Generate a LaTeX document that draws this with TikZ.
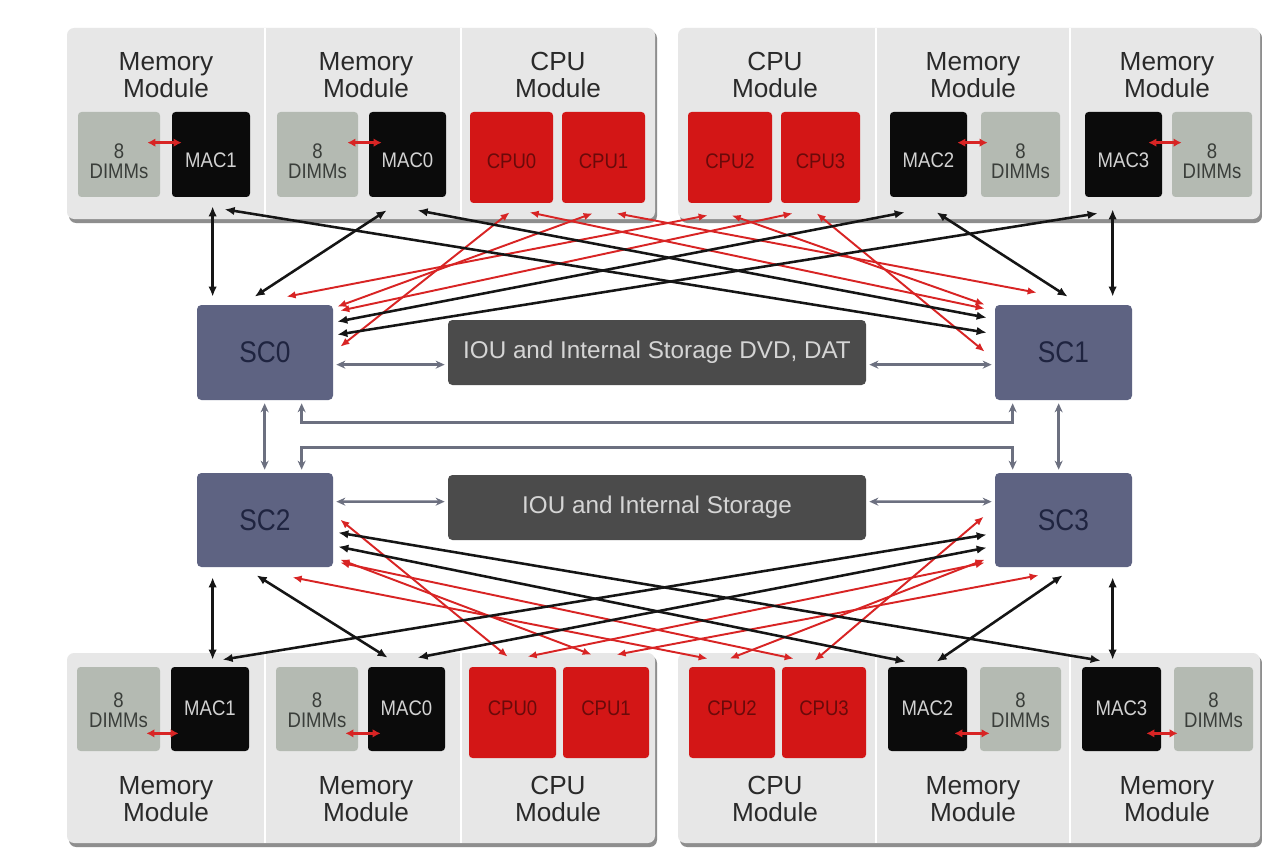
\documentclass[tikz,border=0pt]{standalone}
\usepackage{fontspec}
\setmainfont{Liberation Sans}
\newfontfamily\dgNarrow[FakeStretch=0.88]{Liberation Sans}
\usetikzlibrary{arrows.meta,calc,fit}
\definecolor{panelgray}{HTML}{E7E7E7}
\definecolor{panelshadow}{HTML}{8E8E8E}
\definecolor{dimmgray}{HTML}{B4BAB2}
\definecolor{dimmtext}{HTML}{3A3E3A}
\definecolor{macblack}{HTML}{0B0B0B}
\definecolor{mactext}{HTML}{D2D2D2}
\definecolor{cpured}{HTML}{D31616}
\definecolor{cputext}{HTML}{6A0A0A}
\definecolor{scblue}{HTML}{5E6382}
\definecolor{sctext}{HTML}{1F2440}
\definecolor{ioubox}{HTML}{4B4B4B}
\definecolor{ioutext}{HTML}{D5D5D5}
\definecolor{kblack}{HTML}{151515}
\definecolor{lred}{HTML}{D82424}
\definecolor{lgrey}{HTML}{6C7080}
\definecolor{titletext}{HTML}{2A2A2A}
\newcommand\dgTitleFont{\fontsize{14.9pt}{15.5pt}\selectfont}
\newcommand\dgBoxFont{\dgNarrow\fontsize{12pt}{11.5pt}\selectfont}
\newcommand\dgScFont{\dgNarrow\fontsize{17pt}{17pt}\selectfont}
\newcommand\dgIouFont{\fontsize{13.8pt}{14pt}\selectfont}
\tikzset{
  panelbox/.style={fill=panelgray, rounded corners=4pt, inner sep=0pt},
  panelshade/.style={fill=panelshadow, rounded corners=4pt, inner sep=0pt},
  divider/.style={draw=white, line width=1.6pt},
  dimmbox/.style={fill=dimmgray, rounded corners=2pt, inner sep=0pt},
  macbox/.style={fill=macblack, rounded corners=2pt, inner sep=0pt},
  cpubox/.style={fill=cpured, rounded corners=2pt, inner sep=0pt},
  scbox/.style={fill=scblue, rounded corners=2.5pt, inner sep=0pt},
  ioubx/.style={fill=ioubox, rounded corners=2.5pt, inner sep=0pt},
  ttl/.style={font=\dgTitleFont, text=titletext, align=center, inner sep=0pt},
  dimmlbl/.style={font=\dgBoxFont, text=dimmtext, align=center, inner sep=0pt},
  maclbl/.style={font=\dgBoxFont, text=mactext, inner sep=0pt},
  cpulbl/.style={font=\dgBoxFont, text=cputext, inner sep=0pt},
  sclbl/.style={font=\dgScFont, text=sctext, inner sep=0pt},
  ioulbl/.style={font=\dgIouFont, text=ioutext, inner sep=0pt},
  bk/.style={draw=kblack, line width=1.45pt, arrows={Latex[length=2mm,width=1.7mm]-Latex[length=2mm,width=1.7mm]}},
  rd/.style={draw=lred, line width=1.1pt, arrows={Latex[length=1.8mm,width=1.5mm]-Latex[length=1.8mm,width=1.5mm]}},
  rdm/.style={draw=lred, line width=1.6pt, arrows={Latex[length=1.6mm,width=1.7mm]-Latex[length=1.6mm,width=1.7mm]}},
  gy/.style={draw=lgrey, line width=1.5pt, arrows={Stealth[length=1.8mm,width=1.6mm]-Stealth[length=1.8mm,width=1.6mm]}},
}
\begin{document}
\begin{tikzpicture}[x=0.02cm,y=-0.02cm]
\useasboundingbox[fill=white] (0,0) rectangle (1262,855);

% ---------- panels ----------
\node[panelshade, fit={(69,31)(657,223)}] (tlsh) {};
\node[panelbox, fit={(67,28)(655,219)}] (tl) {};
\node[panelshade, fit={(680,31)(1262,223)}] (trsh) {};
\node[panelbox, fit={(678,28)(1260,219)}] (tr) {};
\node[panelshade, fit={(69,656)(657,847)}] (blsh) {};
\node[panelbox, fit={(67,653)(655,843)}] (bl) {};
\node[panelshade, fit={(680,656)(1262,847)}] (brsh) {};
\node[panelbox, fit={(678,653)(1260,843)}] (br) {};

\draw[divider] (265,28) -- (265,219);
\draw[divider] (461,28) -- (461,219);
\draw[divider] (876,28) -- (876,219);
\draw[divider] (1070,28) -- (1070,219);
\draw[divider] (265,653) -- (265,843);
\draw[divider] (461,653) -- (461,843);
\draw[divider] (876,653) -- (876,843);
\draw[divider] (1070,653) -- (1070,843);

% ---------- titles ----------
\node[ttl] (tt1) at (166,75) {Memory\\Module};
\node[ttl] (tt2) at (366,75) {Memory\\Module};
\node[ttl] (tt3) at (558,75) {CPU\\Module};
\node[ttl] (tt4) at (775,75) {CPU\\Module};
\node[ttl] (tt5) at (973,75) {Memory\\Module};
\node[ttl] (tt6) at (1167,75) {Memory\\Module};
\node[ttl] (bt1) at (166,799) {Memory\\Module};
\node[ttl] (bt2) at (366,799) {Memory\\Module};
\node[ttl] (bt3) at (558,799) {CPU\\Module};
\node[ttl] (bt4) at (775,799) {CPU\\Module};
\node[ttl] (bt5) at (973,799) {Memory\\Module};
\node[ttl] (bt6) at (1167,799) {Memory\\Module};

% ---------- top modules ----------
\node[dimmbox, fit={(78,112)(160,197)}] (tdimm1) {};
\node[macbox, fit={(172,112)(250,197)}] (tmac1) {};
\node[dimmbox, fit={(277,112)(358,197)}] (tdimm0) {};
\node[macbox, fit={(369,112)(446,197)}] (tmac0) {};
\node[cpubox, fit={(470,112)(553,203)}] (tcpu0) {};
\node[cpubox, fit={(562,112)(645,203)}] (tcpu1) {};
\node[cpubox, fit={(688,112)(772,203)}] (tcpu2) {};
\node[cpubox, fit={(781,112)(860,203)}] (tcpu3) {};
\node[macbox, fit={(890,112)(967,197)}] (tmac2) {};
\node[dimmbox, fit={(981,112)(1060,197)}] (tdimm2) {};
\node[macbox, fit={(1085,112)(1162,197)}] (tmac3) {};
\node[dimmbox, fit={(1172,112)(1252,197)}] (tdimm3) {};

\node[dimmlbl] (ltd1) at ($(tdimm1.center)+(0,7)$) {8\\DIMMs};
\node[maclbl] (ltm1) at ($(tmac1.center)+(0,6)$) {MAC1};
\node[dimmlbl] (ltd0) at ($(tdimm0.center)+(0,7)$) {8\\DIMMs};
\node[maclbl] (ltm0) at ($(tmac0.center)+(0,6)$) {MAC0};
\node[cpulbl] (ltc0) at ($(tcpu0.center)+(0,4)$) {CPU0};
\node[cpulbl] (ltc1) at ($(tcpu1.center)+(0,4)$) {CPU1};
\node[cpulbl] (ltc2) at ($(tcpu2.center)+(0,4)$) {CPU2};
\node[cpulbl] (ltc3) at ($(tcpu3.center)+(0,4)$) {CPU3};
\node[maclbl] (ltm2) at ($(tmac2.center)+(0,6)$) {MAC2};
\node[dimmlbl] (ltd2) at ($(tdimm2.center)+(0,7)$) {8\\DIMMs};
\node[maclbl] (ltm3) at ($(tmac3.center)+(0,6)$) {MAC3};
\node[dimmlbl] (ltd3) at ($(tdimm3.center)+(0,7)$) {8\\DIMMs};

% ---------- bottom modules ----------
\node[dimmbox, fit={(77,667)(160,751)}] (bdimm1) {};
\node[macbox, fit={(171,667)(249,751)}] (bmac1) {};
\node[dimmbox, fit={(276,667)(358,751)}] (bdimm0) {};
\node[macbox, fit={(368,667)(445,751)}] (bmac0) {};
\node[cpubox, fit={(469,667)(556,758)}] (bcpu0) {};
\node[cpubox, fit={(563,667)(649,758)}] (bcpu1) {};
\node[cpubox, fit={(689,667)(775,758)}] (bcpu2) {};
\node[cpubox, fit={(782,667)(866,758)}] (bcpu3) {};
\node[macbox, fit={(888,667)(967,751)}] (bmac2) {};
\node[dimmbox, fit={(980,667)(1061,751)}] (bdimm2) {};
\node[macbox, fit={(1082,667)(1161,751)}] (bmac3) {};
\node[dimmbox, fit={(1174,667)(1253,751)}] (bdimm3) {};

\node[dimmlbl] (lbd1) at ($(bdimm1.center)+(0,1)$) {8\\DIMMs};
\node[maclbl] (lbm1) at ($(bmac1.center)+(0,-1)$) {MAC1};
\node[dimmlbl] (lbd0) at ($(bdimm0.center)+(0,1)$) {8\\DIMMs};
\node[maclbl] (lbm0) at ($(bmac0.center)+(0,-1)$) {MAC0};
\node[cpulbl] (lbc0) at ($(bcpu0.center)+(0,-4)$) {CPU0};
\node[cpulbl] (lbc1) at ($(bcpu1.center)+(0,-4)$) {CPU1};
\node[cpulbl] (lbc2) at ($(bcpu2.center)+(0,-4)$) {CPU2};
\node[cpulbl] (lbc3) at ($(bcpu3.center)+(0,-4)$) {CPU3};
\node[maclbl] (lbm2) at ($(bmac2.center)+(0,-1)$) {MAC2};
\node[dimmlbl] (lbd2) at ($(bdimm2.center)+(0,1)$) {8\\DIMMs};
\node[maclbl] (lbm3) at ($(bmac3.center)+(0,-1)$) {MAC3};
\node[dimmlbl] (lbd3) at ($(bdimm3.center)+(0,1)$) {8\\DIMMs};

% ---------- middle ----------
\node[scbox, fit={(197,305)(333,400)}] (sc0) {};
\node[scbox, fit={(995,305)(1132,400)}] (sc1) {};
\node[scbox, fit={(197,473)(333,567)}] (sc2) {};
\node[scbox, fit={(995,473)(1132,567)}] (sc3) {};
\node[ioubx, fit={(448,320)(866,385)}] (iou1) {};
\node[ioubx, fit={(448,475)(866,540)}] (iou2) {};
\node[sclbl] (lsc0) at (sc0.center) {SC0};
\node[sclbl] (lsc1) at (sc1.center) {SC1};
\node[sclbl] (lsc2) at (sc2.center) {SC2};
\node[sclbl] (lsc3) at (sc3.center) {SC3};
\node[ioulbl] (liou1) at (iou1.center) {IOU and Internal Storage DVD, DAT};
\node[ioulbl] (liou2) at (iou2.center) {IOU and Internal Storage};

% ---------- DIMM <-> MAC ----------
\draw[rdm] ($(tdimm1.north east)+(-13,31)$) -- ($(tmac1.north west)+(10,31)$);
\draw[rdm] ($(tdimm0.north east)+(-11,31)$) -- ($(tmac0.north west)+(13,31)$);
\draw[rdm] ($(tmac2.north east)+(-10,31)$) -- ($(tdimm2.north west)+(7,31)$);
\draw[rdm] ($(tmac3.north east)+(-14,31)$) -- ($(tdimm3.north west)+(10,31)$);
\draw[rdm] ($(bdimm1.south east)+(-14,-18)$) -- ($(bmac1.south west)+(8,-18)$);
\draw[rdm] ($(bdimm0.south east)+(-13,-18)$) -- ($(bmac0.south west)+(13,-18)$);
\draw[rdm] ($(bmac2.south east)+(-13,-18)$) -- ($(bdimm2.south west)+(10,-18)$);
\draw[rdm] ($(bmac3.south east)+(-15,-18)$) -- ($(bdimm3.south west)+(4,-18)$);

% ---------- grey links ----------
\draw[gy] ($(sc0.north east)+(3,60)$) -- ($(iou1.north west)+(-3,45)$);
\draw[gy] ($(iou1.north east)+(3,45)$) -- ($(sc1.north west)+(-3,60)$);
\draw[gy] ($(sc0.south west)+(68,3)$) -- ($(sc2.north west)+(68,-3)$);
\draw[gy] ($(sc1.south west)+(64,3)$) -- ($(sc3.north west)+(64,-3)$);
\draw[gy] ($(sc0.south west)+(105,3)$) -- ++(0,19) -| ($(sc1.south west)+(18,3)$);
\draw[gy] ($(sc2.north west)+(105,-3)$) -- ++(0,-22) -| ($(sc3.north west)+(18,-3)$);
\draw[gy] ($(sc2.north east)+(3,29)$) -- ($(iou2.north west)+(-3,27)$);
\draw[gy] ($(iou2.north east)+(3,27)$) -- ($(sc3.north west)+(-3,29)$);

% ---------- red links (top) ----------
\draw[rd] ($(tcpu0.south west)+(40,9)$) -- ($(sc0.north east)+(7,42)$);
\draw[rd] ($(tcpu1.south west)+(31,10)$) -- ($(sc0.north east)+(4,2)$);
\draw[rd] ($(tcpu2.south west)+(20,12)$) -- ($(sc0.north west)+(90,-8)$);
\draw[rd] ($(tcpu3.south west)+(12,10)$) -- ($(sc0.north east)+(7,6)$);
\draw[rd] ($(tcpu0.south west)+(60,9)$) -- ($(sc1.north west)+(-10,4)$);
\draw[rd] ($(tcpu1.south west)+(55,10)$) -- ($(sc1.north west)+(42,-12)$);
\draw[rd] ($(tcpu2.south west)+(44,12)$) -- ($(sc1.north west)+(-10,0)$);
\draw[rd] ($(tcpu3.south west)+(36,10)$) -- ($(sc1.north west)+(-10,47)$);

% ---------- red links (bottom) ----------
\draw[rd] ($(bcpu0.north west)+(39,-10)$) -- ($(sc2.north east)+(7,47)$);
\draw[rd] ($(bcpu1.north west)+(29,-12)$) -- ($(sc2.north east)+(7,87)$);
\draw[rd] ($(bcpu2.north west)+(19,-8)$) -- ($(sc2.south west)+(96,10)$);
\draw[rd] ($(bcpu3.north west)+(12,-8)$) -- ($(sc2.north east)+(7,90)$);
\draw[rd] ($(bcpu0.north west)+(59,-10)$) -- ($(sc3.north west)+(-10,90)$);
\draw[rd] ($(bcpu1.north west)+(54,-12)$) -- ($(sc3.south west)+(44,8)$);
\draw[rd] ($(bcpu2.north west)+(41,-8)$) -- ($(sc3.north west)+(-10,87)$);
\draw[rd] ($(bcpu3.north west)+(33,-6)$) -- ($(sc3.north west)+(-11,44)$);

% ---------- black links (top) ----------
\draw[bk] ($(tmac1.south west)+(41,9)$) -- ($(sc0.north west)+(16,-8)$);
\draw[bk] ($(tmac0.south west)+(18,13)$) -- ($(sc0.north west)+(58,-8)$);
\draw[bk] ($(tmac1.south west)+(53,12)$) -- ($(sc1.north west)+(-8,28)$);
\draw[bk] ($(tmac0.south west)+(49,13)$) -- ($(sc1.north west)+(-8,13)$);
\draw[bk] ($(sc0.north east)+(4,17)$) -- ($(tmac2.south west)+(15,15)$);
\draw[bk] ($(sc0.north east)+(4,30)$) -- ($(tmac3.south west)+(13,16)$);
\draw[bk] ($(tmac2.south west)+(47,15)$) -- ($(sc1.north west)+(73,-8)$);
\draw[bk] ($(tmac3.south west)+(28,12)$) -- ($(sc1.north west)+(118,-8)$);

% ---------- black links (bottom) ----------
\draw[bk] ($(bmac1.north west)+(42,-7)$) -- ($(sc2.south west)+(16,10)$);
\draw[bk] ($(bmac0.north west)+(20,-9)$) -- ($(sc2.south west)+(60,8)$);
\draw[bk] ($(bmac1.north west)+(52,-7)$) -- ($(sc3.north west)+(-8,62)$);
\draw[bk] ($(bmac0.north west)+(50,-9)$) -- ($(sc3.north west)+(-8,75)$);
\draw[bk] ($(sc2.north east)+(5,74)$) -- ($(bmac2.north west)+(18,-5)$);
\draw[bk] ($(sc2.north east)+(5,60)$) -- ($(bmac3.north west)+(19,-6)$);
\draw[bk] ($(bmac2.north west)+(49,-5)$) -- ($(sc3.south west)+(68,8)$);
\draw[bk] ($(bmac3.north west)+(31,-7)$) -- ($(sc3.south west)+(118,10)$);
\end{tikzpicture}
\end{document}
